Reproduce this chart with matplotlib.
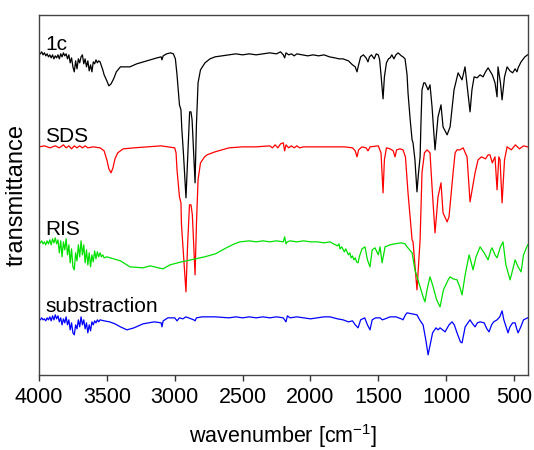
import numpy as np
import matplotlib
matplotlib.use("Agg")
import matplotlib.pyplot as plt

plt.rcParams['font.family'] = ['Liberation Sans', 'DejaVu Sans']
plt.rcParams['mathtext.default'] = 'regular'

# spectra: (wavenumber, offset transmittance)
spec_1c = [
    (4000, 322), (3990, 321), (3980, 323), (3970, 320), (3960, 322), (3950, 319),
    (3940, 321), (3930, 318), (3920, 320), (3910, 317), (3900, 320), (3890, 316),
    (3880, 319), (3870, 317), (3860, 320), (3850, 316), (3840, 321), (3830, 318),
    (3820, 322), (3810, 319), (3800, 321), (3790, 316), (3780, 320), (3770, 312),
    (3760, 317), (3750, 308), (3740, 303), (3730, 314), (3720, 306), (3710, 316),
    (3700, 312), (3690, 318), (3680, 320), (3670, 311), (3660, 316), (3650, 308),
    (3640, 314), (3630, 304), (3620, 310), (3610, 303), (3600, 313), (3590, 311),
    (3580, 315), (3570, 312), (3560, 314), (3550, 313), (3540, 309), (3530, 305),
    (3520, 300), (3500, 294), (3485, 289), (3469, 291), (3450, 296), (3430, 303),
    (3400, 308), (3370, 308), (3330, 308), (3280, 311), (3230, 313), (3180, 315),
    (3130, 317), (3100, 318), (3094, 315), (3085, 319), (3060, 321), (3030, 322),
    (3010, 321), (2995, 316), (2983, 300), (2965, 270), (2954, 265), (2948, 247),
    (2935, 220), (2917, 177), (2900, 230), (2890, 263), (2880, 263), (2872, 255),
    (2860, 220), (2850, 192), (2840, 250), (2828, 292), (2810, 305), (2777, 312),
    (2740, 316), (2703, 318), (2650, 319), (2600, 320), (2550, 321), (2500, 320),
    (2450, 321), (2400, 320), (2350, 321), (2300, 322), (2250, 321), (2220, 323),
    (2200, 320), (2190, 317), (2180, 322), (2160, 320), (2140, 321), (2120, 319),
    (2100, 321), (2060, 320), (2020, 319), (1980, 320), (1940, 319), (1900, 320),
    (1860, 318), (1820, 317), (1790, 316), (1760, 316), (1720, 314), (1690, 310),
    (1670, 308), (1657, 303), (1645, 310), (1630, 318), (1610, 320), (1590, 317),
    (1576, 313), (1565, 318), (1550, 320), (1530, 316), (1515, 321), (1500, 320),
    (1490, 315), (1480, 300), (1465, 276), (1455, 298), (1440, 312), (1425, 316),
    (1413, 317), (1400, 320), (1385, 316), (1370, 320), (1354, 322), (1330, 319),
    (1318, 318), (1303, 316), (1288, 300), (1281, 282), (1265, 255), (1251, 235),
    (1244, 232), (1230, 215), (1215, 183), (1205, 200), (1192, 218), (1185, 255),
    (1178, 285), (1165, 292), (1156, 292), (1133, 285), (1119, 290), (1104, 268),
    (1082, 225), (1060, 258), (1038, 270), (1023, 248), (993, 240), (971, 248),
    (942, 285), (912, 302), (883, 295), (861, 308), (846, 290), (824, 263),
    (810, 285), (794, 298), (772, 297), (750, 300), (728, 298), (710, 303),
    (691, 307), (660, 300), (640, 292), (625, 278), (618, 308), (600, 292),
    (588, 275), (570, 298), (551, 308), (530, 304), (510, 302), (492, 306),
    (478, 303), (470, 307), (448, 313), (420, 318), (400, 320),
]

spec_sds = [
    (4000, 228), (3960, 229), (3920, 227), (3880, 229), (3850, 227), (3820, 230),
    (3800, 227), (3780, 229), (3760, 226), (3740, 229), (3720, 227), (3700, 229),
    (3680, 227), (3660, 229), (3640, 227), (3600, 228), (3550, 227), (3520, 224),
    (3500, 215), (3485, 206), (3469, 202), (3455, 207), (3440, 216), (3420, 222),
    (3380, 226), (3300, 227), (3100, 229), (3000, 227), (2990, 222), (2983, 205),
    (2965, 178), (2954, 172), (2950, 150), (2935, 120), (2917, 83), (2905, 130),
    (2891, 170), (2880, 170), (2870, 160), (2860, 130), (2850, 100), (2840, 150),
    (2828, 195), (2810, 212), (2780, 218), (2762, 220), (2703, 223), (2650, 225),
    (2600, 227), (2500, 228), (2400, 228), (2300, 229), (2280, 227), (2260, 230),
    (2240, 227), (2220, 231), (2200, 232), (2190, 224), (2180, 230), (2160, 227),
    (2140, 229), (2120, 227), (2100, 229), (2080, 227), (2050, 228), (1950, 228),
    (1850, 228), (1750, 228), (1690, 227), (1670, 224), (1657, 218), (1645, 225),
    (1620, 228), (1590, 227), (1576, 224), (1560, 228), (1500, 229), (1480, 222),
    (1465, 182), (1455, 215), (1440, 227), (1413, 226), (1390, 224), (1377, 218),
    (1365, 225), (1340, 226), (1318, 225), (1300, 218), (1281, 182), (1251, 135),
    (1244, 133), (1215, 85), (1192, 135), (1178, 202), (1160, 222), (1141, 225),
    (1119, 222), (1104, 188), (1082, 142), (1060, 178), (1038, 192), (1023, 162),
    (993, 153), (979, 158), (949, 202), (934, 222), (920, 225), (898, 225),
    (875, 227), (846, 218), (824, 173), (787, 202), (765, 215), (740, 218),
    (710, 216), (691, 220), (677, 220), (660, 212), (640, 218), (625, 185),
    (612, 218), (603, 215), (588, 172), (570, 215), (551, 228), (520, 225),
    (490, 230), (460, 226), (430, 229), (400, 228),
]

spec_ris = [
    (4000, 133), (3990, 132), (3980, 134), (3970, 131), (3960, 133), (3950, 130),
    (3940, 134), (3930, 131), (3920, 135), (3910, 130), (3900, 136), (3890, 132),
    (3880, 137), (3870, 131), (3860, 135), (3850, 122), (3840, 134), (3830, 118),
    (3820, 133), (3810, 125), (3800, 136), (3790, 120), (3780, 130), (3770, 112),
    (3760, 126), (3750, 108), (3740, 105), (3730, 122), (3720, 114), (3710, 130),
    (3700, 118), (3690, 134), (3680, 120), (3670, 130), (3660, 112), (3650, 125),
    (3640, 110), (3630, 122), (3620, 108), (3610, 120), (3600, 113), (3590, 124),
    (3580, 116), (3570, 123), (3560, 118), (3550, 122), (3540, 118), (3530, 120),
    (3520, 117), (3500, 118), (3450, 116), (3400, 114), (3330, 108), (3234, 107),
    (3180, 109), (3120, 107), (3086, 106), (3035, 110), (2950, 113), (2880, 115),
    (2780, 118), (2700, 121), (2620, 127), (2560, 131), (2519, 133), (2450, 134),
    (2400, 133), (2350, 134), (2300, 133), (2250, 134), (2200, 133), (2190, 138),
    (2180, 131), (2170, 133), (2150, 134), (2100, 133), (2050, 134), (2000, 133),
    (1950, 133), (1900, 132), (1856, 133), (1830, 131), (1800, 129), (1790, 131),
    (1782, 126), (1770, 128), (1750, 123), (1740, 126), (1720, 120), (1710, 122),
    (1700, 117), (1690, 119), (1680, 115), (1670, 117), (1660, 113), (1649, 112),
    (1640, 118), (1620, 126), (1598, 128), (1580, 115), (1561, 108), (1545, 125),
    (1524, 127), (1500, 120), (1487, 128), (1472, 112), (1450, 128), (1413, 130),
    (1380, 131), (1330, 132), (1303, 131), (1288, 128), (1251, 122), (1230, 105),
    (1192, 88), (1170, 78), (1156, 73), (1141, 85), (1119, 98), (1100, 90),
    (1070, 75), (1045, 68), (1020, 85), (985, 95), (971, 98), (949, 96),
    (920, 95), (900, 88), (883, 80), (860, 100), (831, 120), (815, 112),
    (802, 105), (780, 118), (750, 128), (720, 122), (691, 115), (670, 125),
    (662, 127), (640, 120), (625, 117), (600, 128), (581, 133), (560, 110),
    (529, 95), (510, 105), (492, 115), (470, 108), (448, 103), (430, 120),
    (400, 130),
]

spec_sub = [
    (4000, 56), (3990, 55), (3980, 57), (3970, 55), (3960, 56), (3950, 54),
    (3940, 57), (3930, 55), (3920, 58), (3910, 54), (3900, 59), (3890, 55),
    (3880, 60), (3870, 56), (3860, 59), (3850, 53), (3840, 57), (3830, 50),
    (3820, 56), (3810, 52), (3800, 58), (3790, 50), (3780, 55), (3770, 45),
    (3760, 52), (3750, 42), (3740, 40), (3730, 50), (3720, 46), (3710, 55),
    (3700, 48), (3690, 58), (3680, 50), (3670, 55), (3660, 46), (3650, 52),
    (3640, 42), (3630, 50), (3620, 44), (3610, 53), (3600, 50), (3590, 54),
    (3580, 52), (3570, 55), (3560, 53), (3550, 55), (3520, 54), (3480, 53),
    (3440, 51), (3400, 48), (3352, 45), (3300, 47), (3234, 51), (3150, 53),
    (3100, 52), (3094, 48), (3085, 54), (3050, 57), (3000, 57), (2983, 54),
    (2965, 57), (2940, 56), (2917, 58), (2880, 56), (2860, 55), (2850, 54),
    (2840, 57), (2800, 58), (2700, 58), (2600, 57), (2550, 58), (2500, 57),
    (2450, 58), (2400, 57), (2350, 58), (2300, 57), (2250, 58), (2200, 57),
    (2180, 53), (2170, 59), (2150, 57), (2100, 58), (2050, 57), (2000, 56),
    (1950, 57), (1900, 58), (1856, 58), (1800, 56), (1760, 55), (1720, 53),
    (1690, 54), (1670, 50), (1649, 47), (1630, 55), (1600, 57), (1580, 50),
    (1561, 45), (1545, 55), (1520, 57), (1487, 57), (1470, 55), (1450, 56),
    (1413, 58), (1370, 58), (1330, 56), (1318, 55), (1300, 60), (1288, 62),
    (1250, 61), (1215, 60), (1195, 55), (1170, 50), (1150, 35), (1133, 20),
    (1118, 30), (1100, 42), (1075, 47), (1060, 45), (1045, 47), (1008, 43),
    (979, 50), (957, 53), (940, 50), (920, 42), (895, 33), (883, 32),
    (860, 48), (824, 55), (810, 52), (787, 48), (770, 52), (750, 53),
    (720, 52), (700, 46), (684, 43), (665, 50), (650, 53), (625, 55),
    (605, 58), (588, 64), (575, 55), (544, 42), (530, 48), (510, 52),
    (492, 52), (480, 46), (470, 42), (450, 48), (430, 55), (400, 57),
]

names = ['1c', 'SDS', 'RIS', 'substraction']
spectra = [spec_1c, spec_sds, spec_ris, spec_sub]
colors = ['black', '#ff0000', '#00e000', '#0000ff']
label_y = [325, 233, 140, 63]

fig = plt.figure(figsize=(5.34, 4.5), dpi=100)
ax = fig.add_axes([0.073, 0.167, 0.915, 0.800])

for name, spec, c, ly in zip(names, spectra, colors, label_y):
    wn, t = np.array(spec).T
    ax.plot(wn, t, color=c, lw=0.9)
    ax.text(3955, ly, name, fontsize=15, color='black', va='baseline', ha='left')

ax.set_xlim(4000, 400)
ax.set_ylim(0, 360)
ax.set_xticks([4000, 3500, 3000, 2500, 2000, 1500, 1000, 500])
ax.set_yticks([])
ax.tick_params(axis='x', direction='out', length=4, width=1, labelsize=15.5, pad=5,
               colors='#333333', labelcolor='black')
for sp in ax.spines.values():
    sp.set_color('#444444')
    sp.set_linewidth(1)

ax.set_xlabel('wavenumber [cm$^{-1}$]', fontsize=15.5, labelpad=10)
ax.set_ylabel('transmittance', fontsize=17, labelpad=8)

fig.savefig('out.png', dpi=100)
